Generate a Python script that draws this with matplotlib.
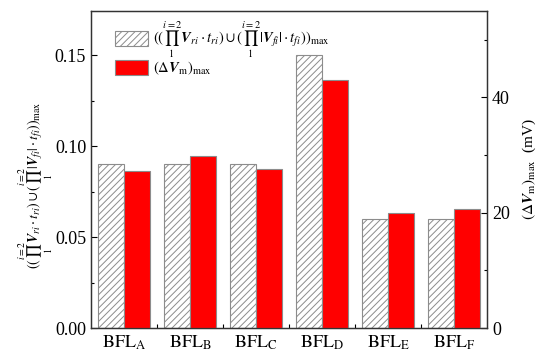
import numpy as np
import matplotlib
matplotlib.use("Agg")
import matplotlib.pyplot as plt
from matplotlib.ticker import MultipleLocator, FixedLocator

plt.rcParams['font.family'] = ['Liberation Serif', 'DejaVu Serif']
plt.rcParams['mathtext.fontset'] = 'stix'
plt.rcParams['hatch.color'] = '#8c8c8c'
plt.rcParams['hatch.linewidth'] = 0.7

# data
groups = ['A', 'B', 'C', 'D', 'E', 'F']
prod_max = [0.09, 0.09, 0.09, 0.15, 0.06, 0.06]      # left axis
dvm_max = [27.2, 29.9, 27.5, 43.0, 19.9, 20.6]       # right axis, mV
tick_labels = [r'$\mathrm{BFL_%s}$' % g for g in groups]

lab_prod = (r'$((\prod_{1}^{i=2}\boldsymbol{V}_{ri}\cdot t_{ri})\cup'
            r'(\prod_{1}^{i=2}|\boldsymbol{V}_{fi}|\cdot t_{fi}))_{\max}$')
lab_dvm = r'$(\Delta \boldsymbol{V}_{\mathrm{m}})_{\max}$'

fig = plt.figure(figsize=(5.5, 3.64), dpi=100)
ax = fig.add_axes([0.1655, 0.0989, 0.72, 0.8717])
ax2 = ax.twinx()

x = np.arange(len(groups))
w = 0.4
b1 = ax.bar(x - w/2, prod_max, w, facecolor='white', edgecolor='#8c8c8c',
            hatch='/////', linewidth=0.8, label=lab_prod)
b2 = ax2.bar(x + w/2, dvm_max, w, facecolor='#ff0000', edgecolor='#8c8c8c',
             linewidth=0.8, label=lab_dvm)

ax.set_xlim(-0.5, 5.5)
ax.set_ylim(0, 0.1745)
ax2.set_ylim(0, 55)

ax.set_xticks(x)
ax.set_xticklabels(tick_labels, fontsize=13)
ax.xaxis.set_minor_locator(FixedLocator(x[:-1] + 0.5))
ax.tick_params(axis='x', which='major', length=0, pad=4)
ax.tick_params(axis='x', which='minor', length=3, direction='in', width=0.8)

ax.set_yticks([0, 0.05, 0.10, 0.15])
ax.set_yticklabels(['0.00', '0.05', '0.10', '0.15'], fontsize=13)
ax.yaxis.set_minor_locator(MultipleLocator(0.025))
ax.tick_params(axis='y', which='major', direction='in', length=4, width=0.8)
ax.tick_params(axis='y', which='minor', direction='in', length=2.5, width=0.8)

ax2.yaxis.set_major_locator(MultipleLocator(20))
ax2.yaxis.set_minor_locator(MultipleLocator(10))
ax2.tick_params(axis='y', which='major', direction='in', length=4, width=0.8, labelsize=13)
ax2.tick_params(axis='y', which='minor', direction='in', length=2.5, width=0.8)

for a in (ax, ax2):
    for s in a.spines.values():
        s.set_linewidth(0.9)
        s.set_color('#333333')

ax.set_ylabel(lab_prod, fontsize=10)
ax.yaxis.set_label_coords(-0.09, 0.45)
ax2.set_ylabel(lab_dvm + '  (mV)', fontsize=11, labelpad=8)

ax.legend([b1, b2], [lab_prod, lab_dvm], loc='upper left',
          bbox_to_anchor=(0.045, 0.99), frameon=False, fontsize=10.5,
          handlelength=2.3, handleheight=1.15, handletextpad=0.3,
          labelspacing=0.0, borderaxespad=0)

fig.savefig('out.png', dpi=100)
